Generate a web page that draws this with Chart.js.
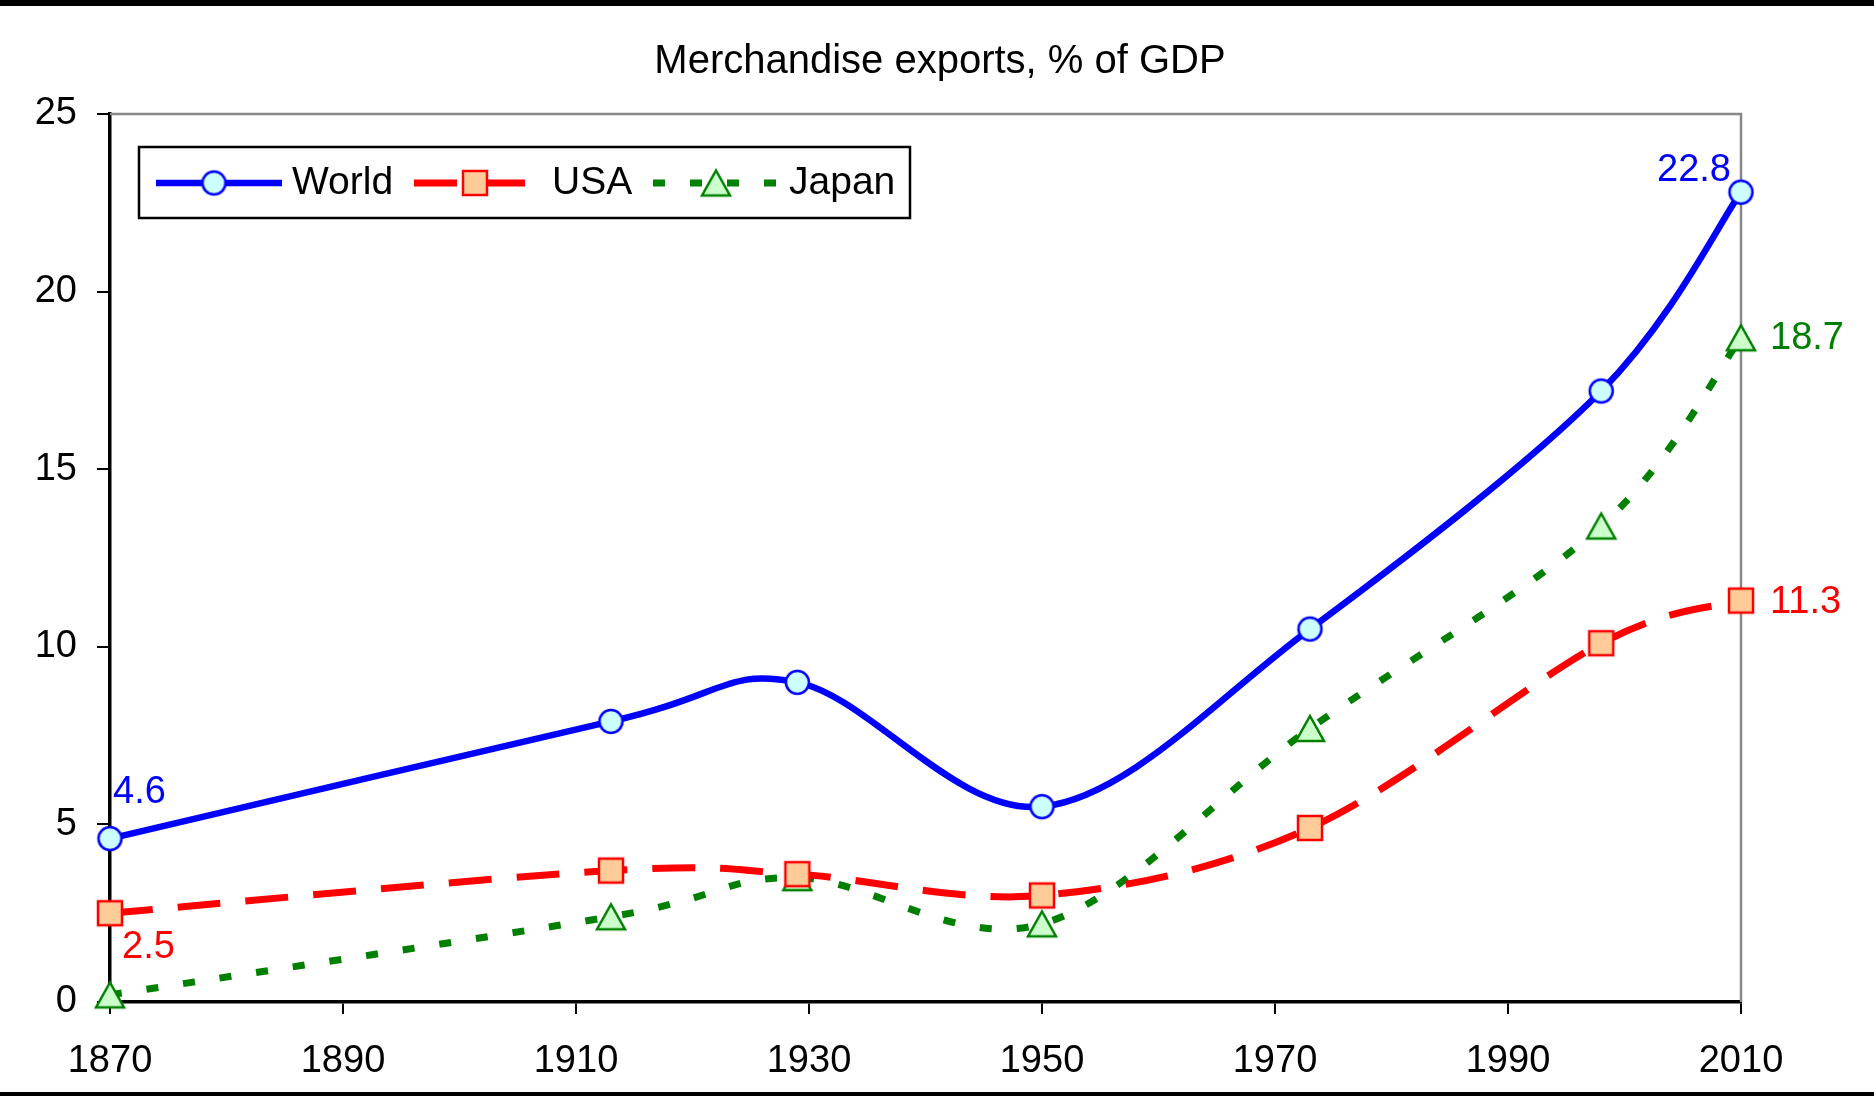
<!DOCTYPE html>
<html>
<head>
<meta charset="utf-8">
<title>Merchandise exports, % of GDP</title>
<script src="https://cdn.jsdelivr.net/npm/chart.js@4/dist/chart.umd.min.js"></script>
<style>
	html, body { margin: 0; padding: 0; background: #fff; }
	#wrap { position: absolute; left: 0; top: 0; width: 1874px; height: 1096px; }
</style>
</head>
<body>
<div id="wrap"><canvas id="c" width="1874" height="1096"></canvas></div>
<script>
// data
var years = [1870, 1913, 1929, 1950, 1973, 1998, 2010];
var world = [4.6, 7.9, 9.0, 5.5, 10.5, 17.2, 22.8];
var usa = [2.5, 3.7, 3.6, 3.0, 4.9, 10.1, 11.3];
var japan = [0.2, 2.4, 3.5, 2.2, 7.7, 13.4, 18.7];
var seriesNames = ["World", "USA", "Japan"];
var xTicks = [1870, 1890, 1910, 1930, 1950, 1970, 1990, 2010];
var yTicks = [0, 5, 10, 15, 20, 25];
var titleText = "Merchandise exports, % of GDP";

var FONT = "'Liberation Sans', Arial, sans-serif";
var BLUE = "#0000ff", RED = "#ff0000", GREEN = "#008000";

function pts(vals) {
	return years.map(function(y, i) { return {x: y, y: vals[i]}; });
}

// marker images, centred on the point like Excel does
function marker(kind, w, h, fill, stroke) {
	var pad = 3;
	var c = document.createElement("canvas");
	c.width = w + pad * 2; c.height = h + pad * 2;
	var g = c.getContext("2d");
	g.fillStyle = fill; g.strokeStyle = stroke; g.lineWidth = 2.5;
	g.beginPath();
	if (kind == "circle") {
		g.ellipse(c.width / 2, c.height / 2, w / 2, h / 2, 0, 0, Math.PI * 2);
	} else if (kind == "square") {
		g.rect(pad, pad, w, h);
	} else {
		g.moveTo(c.width / 2, pad);
		g.lineTo(pad + w, pad + h);
		g.lineTo(pad, pad + h);
		g.closePath();
	}
	g.fill(); g.stroke();
	return c;
}
var mWorld = marker("circle", 23, 23, "#ccffff", BLUE);
var mUsa = marker("square", 24, 24, "#ffcc99", RED);
var mJapan = marker("triangle", 28, 25, "#ccffcc", GREEN);

// Excel style smoothing: handles of (next - prev) / 6 on both sides
function excelSmooth(chart) {
	chart.data.datasets.forEach(function(ds, di) {
		var meta = chart.getDatasetMeta(di);
		meta.dataset.updateControlPoints(chart.chartArea, "x");
		var p = meta.data, n = p.length;
		for (var i = 0; i < n; i++) {
			var a = p[Math.max(i - 1, 0)], b = p[Math.min(i + 1, n - 1)];
			var tx = (b.x - a.x) / 6, ty = (b.y - a.y) / 6;
			p[i].cp1x = p[i].x - tx; p[i].cp1y = p[i].y - ty;
			p[i].cp2x = p[i].x + tx; p[i].cp2y = p[i].y + ty;
		}
	});
}

var decor = {
	id: "decor",
	beforeDraw: function(chart) {
		var ctx = chart.ctx;
		ctx.save();
		ctx.fillStyle = "#fff";
		ctx.fillRect(0, 0, chart.width, chart.height);
		ctx.fillStyle = "#000";
		ctx.fillRect(0, 0, chart.width, 6);
		ctx.fillRect(0, chart.height - 4, chart.width, 4);
		ctx.restore();
	},
	beforeDatasetsDraw: function(chart) {
		var a = chart.chartArea, ctx = chart.ctx;
		ctx.save();
		ctx.strokeStyle = "#888";
		ctx.lineWidth = 2.5;
		ctx.beginPath();
		ctx.moveTo(a.left, a.top);
		ctx.lineTo(a.right, a.top);
		ctx.lineTo(a.right, a.bottom);
		ctx.stroke();
		ctx.restore();
		excelSmooth(chart);
	},
	afterDraw: function(chart) {
		var ctx = chart.ctx;
		ctx.save();
		// title
		ctx.fillStyle = "#000";
		ctx.font = "40px " + FONT;
		ctx.textAlign = "center";
		ctx.textBaseline = "middle";
		ctx.fillText(titleText, 940, 62);

		// legend box
		ctx.lineWidth = 2.5;
		ctx.strokeStyle = "#000";
		ctx.fillStyle = "#fff";
		ctx.fillRect(139, 147, 771, 71);
		ctx.strokeRect(139, 147, 771, 71);
		var ly = 183;
		ctx.lineCap = "butt";
		ctx.lineWidth = 6.5;
		ctx.strokeStyle = BLUE;
		ctx.beginPath(); ctx.moveTo(156, ly); ctx.lineTo(282, ly); ctx.stroke();
		ctx.drawImage(mWorld, 214 - mWorld.width / 2, ly - mWorld.height / 2);
		ctx.strokeStyle = RED;
		ctx.lineWidth = 7;
		ctx.beginPath(); ctx.moveTo(414, ly); ctx.lineTo(457, ly); ctx.moveTo(485, ly); ctx.lineTo(525, ly); ctx.stroke();
		ctx.drawImage(mUsa, 475 - mUsa.width / 2, ly - mUsa.height / 2);
		ctx.strokeStyle = GREEN;
		ctx.lineWidth = 7;
		ctx.setLineDash([12, 25]);
		ctx.beginPath(); ctx.moveTo(653, ly); ctx.lineTo(778, ly); ctx.stroke();
		ctx.setLineDash([]);
		ctx.drawImage(mJapan, 716 - mJapan.width / 2, ly - mJapan.height / 2);
		ctx.fillStyle = "#000";
		ctx.font = "39px " + FONT;
		ctx.textAlign = "left";
		ctx.fillText(seriesNames[0], 292, ly);
		ctx.fillText(seriesNames[1], 552, ly);
		ctx.fillText(seriesNames[2], 789, ly);

		// value labels at the ends
		var last = years.length - 1;
		var pW0 = chart.getDatasetMeta(0).data[0], pW1 = chart.getDatasetMeta(0).data[last];
		var pU0 = chart.getDatasetMeta(1).data[0], pU1 = chart.getDatasetMeta(1).data[last];
		var pJ1 = chart.getDatasetMeta(2).data[last];
		ctx.font = "38px " + FONT;
		ctx.fillStyle = BLUE;
		ctx.fillText(world[0].toFixed(1), pW0.x + 3, pW0.y - 46);
		ctx.textAlign = "right";
		ctx.fillText(world[last].toFixed(1), pW1.x - 10, pW1.y - 22);
		ctx.textAlign = "left";
		ctx.fillStyle = RED;
		ctx.fillText(usa[0].toFixed(1), pU0.x + 12, pU0.y + 34);
		ctx.fillText(usa[last].toFixed(1), pU1.x + 29, pU1.y + 2);
		ctx.fillStyle = GREEN;
		ctx.fillText(japan[last].toFixed(1), pJ1.x + 29, pJ1.y + 1);
		ctx.restore();
	}
};

new Chart(document.getElementById("c"), {
	type: "line",
	data: {
		datasets: [
			{label: seriesNames[0], data: pts(world), borderColor: BLUE, borderWidth: 6.5,
				pointStyle: mWorld, tension: 0.3, clip: false},
			{label: seriesNames[1], data: pts(usa), borderColor: RED, borderWidth: 7, borderDash: [43, 25],
				pointStyle: mUsa, tension: 0.3, clip: false},
			{label: seriesNames[2], data: pts(japan), borderColor: GREEN, borderWidth: 7, borderDash: [12, 25],
				pointStyle: mJapan, tension: 0.3, clip: false}
		]
	},
	options: {
		responsive: false,
		animation: false,
		layout: {padding: {top: 114, right: 133, left: 0, bottom: 0}},
		elements: {line: {capBezierPoints: false, fill: false}},
		plugins: {legend: {display: false}, title: {display: false}, tooltip: {enabled: false}},
		scales: {
			x: {
				type: "linear", min: 1870, max: 2010,
				afterBuildTicks: function(s) { s.ticks = xTicks.map(function(v) { return {value: v}; }); },
				afterFit: function(s) { s.height = 94; },
				border: {color: "#000", width: 3.5},
				grid: {drawOnChartArea: false, color: "#000", lineWidth: 2, tickLength: 12},
				ticks: {color: "#000", font: {family: FONT, size: 38}, padding: 25, maxRotation: 0,
					callback: function(v) { return String(v); }}
			},
			y: {
				min: 0, max: 25,
				afterBuildTicks: function(s) { s.ticks = yTicks.map(function(v) { return {value: v}; }); },
				afterFit: function(s) { s.width = 110; },
				border: {color: "#000", width: 3.5},
				grid: {drawOnChartArea: false, color: "#000", lineWidth: 2, tickLength: 13},
				ticks: {color: "#000", font: {family: FONT, size: 38}, padding: 20}
			}
		}
	},
	plugins: [decor]
});
</script>
</body>
</html>
